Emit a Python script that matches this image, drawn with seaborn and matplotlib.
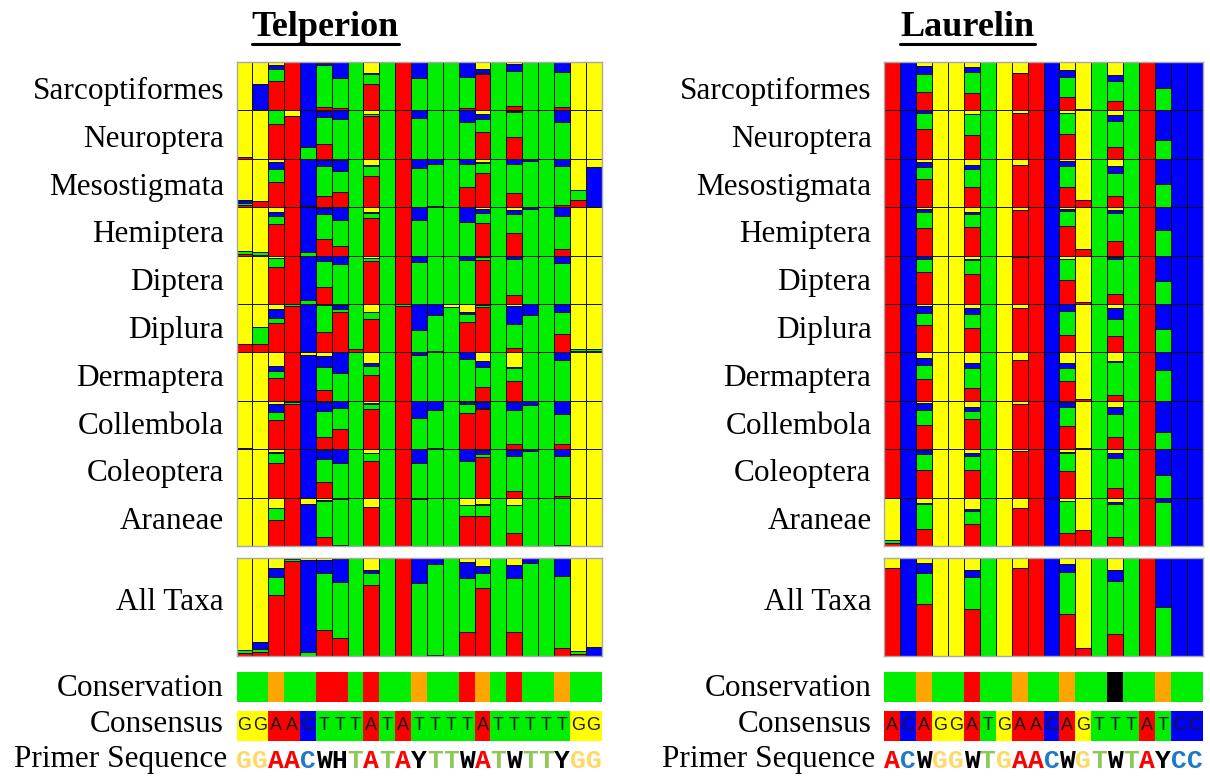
import numpy as np
import matplotlib
matplotlib.use('Agg')
import matplotlib.pyplot as plt
from matplotlib.colors import ListedColormap
from matplotlib.lines import Line2D
from matplotlib.transforms import blended_transform_factory
import seaborn as sns

taxa = ['Sarcoptiformes', 'Neuroptera', 'Mesostigmata', 'Hemiptera', 'Diptera',
        'Diplura', 'Dermaptera', 'Collembola', 'Coleoptera', 'Araneae']

# base composition per primer position, (A, T, C, G) in %, stacked bottom -> top
# --- Telperion (23 positions)
tel_sarcoptiformes = [(0,0,0,100),(0,0,54,46),(61,25,7,7),(100,0,0,0),(0,0,100,0),(7,86,5,2),(5,62,33,0),(0,100,0,0),(54,21,3,22),(0,100,0,0),(100,0,0,0),(0,67,33,0),(0,100,0,0),(0,100,0,0),(4,66,30,0),(76,2,8,14),(0,100,0,0),(10,71,15,4),(0,100,0,0),(0,100,0,0),(6,73,21,0),(0,0,0,100),(0,0,0,100)]
tel_neuroptera = [(4,0,0,96),(0,0,0,100),(72,28,0,0),(88,0,0,12),(0,24,76,0),(31,56,11,2),(0,82,18,0),(0,100,0,0),(88,5,0,7),(0,100,0,0),(100,0,0,0),(0,84,16,0),(0,100,0,0),(0,100,0,0),(0,77,23,0),(55,27,10,8),(0,100,0,0),(46,50,2,2),(0,100,0,0),(0,100,0,0),(0,76,24,0),(0,0,0,100),(0,0,0,100)]
tel_mesostigmata = [(4,5,6,85),(13,0,0,87),(52,26,15,7),(100,0,0,0),(0,2,98,0),(23,62,13,2),(32,43,23,2),(0,100,0,0),(65,21,2,12),(0,100,0,0),(100,0,0,0),(0,82,18,0),(2,88,10,0),(0,100,0,0),(42,48,10,0),(71,21,1,7),(0,100,0,0),(30,59,10,1),(0,96,4,0),(0,100,0,0),(4,82,14,0),(14,22,0,64),(0,0,83,17)]
tel_hemiptera = [(3,6,0,91),(2,6,0,92),(66,16,9,9),(100,0,0,0),(0,8,92,0),(34,52,12,2),(20,53,27,0),(0,100,0,0),(78,10,3,9),(0,100,0,0),(100,0,0,0),(0,73,27,0),(0,100,0,0),(0,100,0,0),(0,70,30,0),(68,21,8,3),(0,100,0,0),(46,39,10,5),(0,96,4,0),(0,100,0,0),(13,69,18,0),(0,0,0,100),(0,0,0,100)]
tel_diptera = [(0,0,0,100),(0,0,0,100),(77,18,0,5),(100,0,0,0),(0,8,92,0),(36,53,10,1),(0,83,17,0),(0,100,0,0),(89,6,0,5),(0,100,0,0),(100,0,0,0),(0,87,13,0),(0,100,0,0),(0,100,0,0),(0,90,10,0),(91,6,0,3),(0,100,0,0),(19,74,7,0),(0,100,0,0),(0,100,0,0),(0,85,15,0),(0,0,0,100),(0,0,0,100)]
tel_diplura = [(17,0,0,83),(17,35,0,48),(60,12,17,11),(95,5,0,0),(0,0,100,0),(43,54,0,3),(83,7,7,3),(8,92,0,0),(68,15,0,17),(0,100,0,0),(95,5,0,0),(0,46,54,0),(3,74,23,0),(0,93,0,7),(62,17,4,17),(93,4,0,3),(0,100,0,0),(10,48,37,5),(0,78,22,0),(0,100,0,0),(38,46,16,0),(2,5,0,93),(2,5,0,93)]
tel_dermaptera = [(0,0,0,100),(0,0,0,100),(48,14,10,28),(100,0,0,0),(0,0,95,5),(23,46,24,7),(0,57,43,0),(0,100,0,0),(53,18,8,21),(0,100,0,0),(100,0,0,0),(0,95,5,0),(0,100,0,0),(0,100,0,0),(0,87,13,0),(28,41,14,17),(0,100,0,0),(41,26,2,31),(0,100,0,0),(0,100,0,0),(0,84,16,0),(0,0,0,100),(0,0,0,100)]
tel_collembola = [(2,0,0,98),(0,0,0,100),(60,16,17,7),(94,4,0,2),(0,0,100,0),(26,53,19,2),(41,45,14,0),(0,100,0,0),(83,10,2,5),(0,100,0,0),(100,0,0,0),(0,65,35,0),(3,77,20,0),(0,100,0,0),(74,19,4,3),(83,3,12,2),(0,100,0,0),(10,71,17,2),(0,92,8,0),(0,100,0,0),(10,62,28,0),(0,0,0,100),(0,0,0,100)]
tel_coleoptera = [(0,0,0,100),(0,0,0,100),(72,21,2,5),(100,0,0,0),(0,0,100,0),(32,47,19,2),(0,72,28,0),(0,100,0,0),(76,17,0,7),(0,100,0,0),(100,0,0,0),(0,71,29,0),(0,100,0,0),(0,100,0,0),(0,76,24,0),(83,7,8,2),(0,100,0,0),(14,71,13,2),(0,96,4,0),(0,100,0,0),(3,82,15,0),(0,0,0,100),(0,0,0,100)]
tel_araneae = [(0,0,0,100),(0,0,0,100),(54,24,0,22),(100,0,0,0),(0,0,86,14),(19,74,2,5),(3,95,2,0),(0,100,0,0),(80,0,0,20),(0,100,0,0),(100,0,0,0),(0,98,2,0),(0,100,0,0),(0,100,0,0),(62,23,0,15),(62,22,2,14),(0,100,0,0),(26,58,1,15),(0,100,0,0),(0,100,0,0),(3,97,0,0),(0,0,0,100),(0,0,0,100)]
tel_all = [(3,3,0,94),(4,3,7,86),(62,19,9,10),(97,2,0,1),(0,4,94,2),(27,58,13,2),(18,58,23,1),(0,100,0,0),(72,13,3,12),(0,100,0,0),(100,0,0,0),(0,75,25,0),(1,93,6,0),(0,100,0,0),(24,56,16,4),(69,16,7,8),(0,100,0,0),(25,55,13,7),(0,95,5,0),(0,100,0,0),(8,74,18,0),(2,3,0,95),(0,0,9,91)]
tel_conservation = list('GGOGGRRGRGGOGGROGRGGOGG')
tel_consensus = list('GGAACTTTATATTTTATTTTTGG')
tel_primer = list('GGAACWHTATAYTTWATWTTYGG')

# --- Laurelin (20 positions)
lau_sarcoptiformes = [(100,0,0,0),(0,0,100,0),(37,39,16,8),(0,0,0,100),(0,0,0,100),(35,45,9,11),(0,100,0,0),(0,0,0,100),(78,0,0,22),(100,0,0,0),(0,0,100,0),(28,42,14,16),(3,0,0,97),(0,100,0,0),(19,42,13,26),(0,100,0,0),(100,0,0,0),(0,47,53,0),(0,0,100,0),(0,0,100,0)]
lau_neuroptera = [(100,0,0,0),(0,0,100,0),(61,33,6,0),(0,0,0,100),(0,0,0,100),(49,44,0,7),(0,100,0,0),(0,0,0,100),(94,0,0,6),(100,0,0,0),(0,0,100,0),(52,42,0,6),(0,0,0,100),(0,100,0,0),(24,55,12,9),(0,100,0,0),(100,0,0,0),(0,38,62,0),(0,0,100,0),(0,0,100,0)]
lau_mesostigmata = [(100,0,0,0),(0,0,100,0),(58,25,11,6),(0,0,0,100),(0,0,0,100),(41,37,10,12),(0,100,0,0),(0,0,0,100),(88,0,0,12),(100,0,0,0),(0,0,100,0),(41,44,10,5),(14,0,0,86),(0,100,0,0),(24,46,15,15),(0,100,0,0),(100,0,0,0),(0,47,53,0),(0,0,100,0),(0,0,100,0)]
lau_hemiptera = [(100,0,0,0),(0,0,100,0),(57,34,6,3),(0,0,0,100),(0,0,0,100),(60,25,6,9),(0,100,0,0),(0,0,0,100),(95,0,0,5),(100,0,0,0),(0,0,100,0),(61,32,4,3),(14,0,0,86),(0,100,0,0),(30,57,8,5),(0,100,0,0),(100,0,0,0),(0,52,48,0),(0,0,100,0),(0,0,100,0)]
lau_diptera = [(100,0,0,0),(0,0,100,0),(66,28,6,0),(0,0,0,100),(0,0,0,100),(62,28,2,8),(0,100,0,0),(0,0,0,100),(98,0,0,2),(100,0,0,0),(0,0,100,0),(50,43,0,7),(5,0,0,95),(0,100,0,0),(21,72,4,3),(0,100,0,0),(100,0,0,0),(0,48,52,0),(0,0,100,0),(0,0,100,0)]
lau_diplura = [(100,0,0,0),(0,0,100,0),(57,25,14,4),(0,0,0,100),(0,0,0,100),(50,30,12,8),(0,100,0,0),(0,0,0,100),(91,0,0,9),(100,0,0,0),(0,0,100,0),(36,50,14,0),(0,0,0,100),(0,100,0,0),(33,37,21,9),(0,100,0,0),(100,0,0,0),(0,48,52,0),(0,0,100,0),(0,0,100,0)]
lau_dermaptera = [(100,0,0,0),(0,0,100,0),(46,29,14,11),(0,0,0,100),(0,0,0,100),(27,41,10,22),(0,100,0,0),(0,0,0,100),(85,0,0,15),(100,0,0,0),(0,0,100,0),(40,28,10,22),(3,0,0,97),(0,100,0,0),(12,68,2,18),(0,100,0,0),(100,0,0,0),(0,63,37,0),(0,0,100,0),(0,0,100,0)]
lau_collembola = [(100,0,0,0),(0,0,100,0),(51,30,14,5),(0,0,0,100),(0,0,0,100),(62,17,9,12),(0,100,0,0),(0,0,0,100),(94,0,0,6),(100,0,0,0),(0,0,100,0),(48,39,10,3),(3,0,0,97),(0,100,0,0),(25,47,16,12),(0,100,0,0),(100,0,0,0),(0,36,64,0),(0,0,100,0),(0,0,100,0)]
lau_coleoptera = [(100,0,0,0),(0,0,100,0),(58,33,7,2),(0,0,0,100),(0,0,0,100),(58,28,7,7),(0,100,0,0),(0,0,0,100),(96,0,0,4),(100,0,0,0),(0,0,100,0),(54,39,2,5),(0,0,0,100),(0,100,0,0),(20,62,11,7),(0,100,0,0),(100,0,0,0),(0,46,54,0),(0,0,100,0),(0,0,100,0)]
lau_araneae = [(7,5,0,88),(0,0,100,0),(36,50,2,12),(0,0,0,100),(0,0,0,100),(46,27,3,24),(0,100,0,0),(0,0,0,100),(79,0,0,21),(100,0,0,0),(0,0,100,0),(27,65,2,6),(33,0,0,67),(0,100,0,0),(18,68,5,9),(0,100,0,0),(100,0,0,0),(0,91,9,0),(0,0,100,0),(0,0,100,0)]
lau_all = [(90,0,0,10),(0,0,100,0),(53,32,10,5),(0,0,0,100),(0,0,0,100),(48,33,7,12),(0,100,0,0),(0,0,0,100),(90,0,0,10),(100,0,0,0),(0,0,100,0),(43,43,8,6),(8,0,0,92),(0,100,0,0),(22,55,11,12),(0,100,0,0),(100,0,0,0),(0,50,50,0),(0,0,100,0),(0,0,100,0)]
lau_conservation = list('GGOGGRGGOGGOGGKGGOGG')
lau_consensus = list('ACAGGATGAACAGTTTATCC')
lau_primer = list('ACWGGWTGAACWGTWTAYCC')

tel_rows = [tel_sarcoptiformes, tel_neuroptera, tel_mesostigmata, tel_hemiptera, tel_diptera,
            tel_diplura, tel_dermaptera, tel_collembola, tel_coleoptera, tel_araneae]
lau_rows = [lau_sarcoptiformes, lau_neuroptera, lau_mesostigmata, lau_hemiptera, lau_diptera,
            lau_diplura, lau_dermaptera, lau_collembola, lau_coleoptera, lau_araneae]

# colours
BASE_ORDER = ['A', 'T', 'C', 'G']
BASE_COL = {'A': '#FF0000', 'T': '#00EE00', 'C': '#0000FF', 'G': '#FFFF00'}
CONS_COL = {'G': '#00EE00', 'O': '#FFA500', 'R': '#FF0000', 'K': '#000000'}
PRIMER_COL = {'G': '#FFD966', 'A': '#FF0000', 'C': '#1F78C8', 'T': '#8CC85A'}

sns.set_style('white')
plt.rcParams['font.family'] = ['Liberation Serif', 'DejaVu Serif']
plt.rcParams['text.color'] = 'black'
plt.rcParams['ytick.color'] = 'black'
plt.rcParams['ytick.labelcolor'] = 'black'

W, H = 1210, 776
fig = plt.figure(figsize=(W / 100, H / 100), dpi=100)

LABEL_FS = 22.5
SERIF = 'Liberation Serif'


def box(x0, w, top, bottom):
    return [x0 / W, 1 - bottom / H, w / W, (bottom - top) / H]


def stack_rows(ax, rows):
    # stacked bars drawn as overlapping cumulative bars, top row first
    n = len(rows[0])
    xs = list(range(n))
    for i, prof in enumerate(rows):
        off = len(rows) - 1 - i
        frac = np.array(prof, float)
        frac = frac / frac.sum(axis=1, keepdims=True)
        cum = off + np.cumsum(frac, axis=1)
        for k in [3, 2, 1, 0]:
            sns.barplot(x=xs, y=cum[:, k], color=BASE_COL[BASE_ORDER[k]], width=1,
                        saturation=1, edgecolor='#111111', linewidth=0.7,
                        errorbar=None, ax=ax)
    ax.set_xlim(-0.5, n - 0.5)
    ax.set_ylim(0, len(rows))
    ax.set_xticks([])
    ax.set_xlabel('')
    ax.set_ylabel('')
    for s in ax.spines.values():
        s.set_visible(True)
        s.set_color('#a8a8a8')
        s.set_linewidth(1.0)


def label_axis(ax, ticks, labels):
    ax.set_yticks(ticks)
    ax.set_yticklabels(labels, fontsize=LABEL_FS, family=SERIF, rotation=0, color='black')
    ax.tick_params(axis='y', length=0, pad=9, left=False)


def panel(x0, w, rows, all_row, conservation, consensus, primer, title, title_x):
    ax_t = fig.add_axes(box(x0, w, 62, 546))
    stack_rows(ax_t, rows)
    # label centres in pixels, converted to row units
    label_px = [88 + 47.8 * i for i in range(len(rows))]
    label_axis(ax_t, [len(rows) - (p - 62) / 48.4 for p in label_px], taxa)

    ax_a = fig.add_axes(box(x0, w, 558, 656))
    stack_rows(ax_a, [all_row])
    label_axis(ax_a, [0.58], ['All Taxa'])

    ax_c = fig.add_axes(box(x0, w, 672, 702))
    keys = list(CONS_COL.keys())
    sns.heatmap(np.array([[keys.index(c) for c in conservation]]), ax=ax_c, cbar=False,
                cmap=ListedColormap([CONS_COL[k] for k in keys]), vmin=-0.5, vmax=len(keys) - 0.5,
                xticklabels=False, yticklabels=False)
    label_axis(ax_c, [0.42], ['Conservation'])

    ax_s = fig.add_axes(box(x0, w, 711, 741))
    sns.heatmap(np.array([[BASE_ORDER.index(c) for c in consensus]]), ax=ax_s, cbar=False,
                cmap=ListedColormap([BASE_COL[b] for b in BASE_ORDER]), vmin=-0.5, vmax=3.5,
                annot=np.array([consensus]), fmt='',
                annot_kws=dict(color='#1a1a1a', fontsize=13, family='Liberation Sans'),
                xticklabels=False, yticklabels=False)
    label_axis(ax_s, [0.33], ['Consensus'])

    # primer sequence, one letter per position under the consensus strip
    tr = blended_transform_factory(ax_s.transData, ax_s.transAxes)
    for i, ch in enumerate(primer):
        ax_s.text(i + 0.5, -0.66, ch, transform=tr, ha='center', va='center',
                  fontsize=19, fontweight='bold', family='Liberation Mono',
                  color=PRIMER_COL.get(ch, '#000000'), clip_on=False)
    ax_s.text(-9 / w, -0.62, 'Primer Sequence', transform=ax_s.transAxes, ha='right',
              va='center', fontsize=LABEL_FS, family=SERIF, color='black')

    t = fig.text(title_x / W, 1 - 36 / H, title, ha='center', va='baseline',
                 fontsize=26, fontweight='bold', family=SERIF, color='black')
    return t


t1 = panel(236.5, 365, tel_rows, tel_all, tel_conservation, tel_consensus, tel_primer,
           'Telperion', 325.5)
t2 = panel(884, 319, lau_rows, lau_all, lau_conservation, lau_consensus, lau_primer,
           'Laurelin', 967.5)

# underline the titles
fig.canvas.draw()
for t in (t1, t2):
    bb = t.get_window_extent()
    fig.add_artist(Line2D([bb.x0 / W, bb.x1 / W], [1 - 43.5 / H, 1 - 43.5 / H],
                          transform=fig.transFigure, color='black', linewidth=2.2))

fig.savefig('out.png', dpi=100)
